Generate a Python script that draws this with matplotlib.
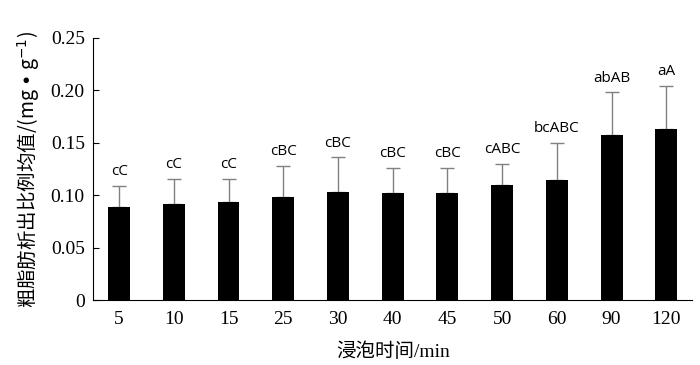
import matplotlib.pyplot as plt
import numpy as np

# 浸泡时间 / 均值 / 标准差 / 显著性标记
times = ["5", "10", "15", "25", "30", "40", "45", "50", "60", "90", "120"]
means = [0.089, 0.0915, 0.0935, 0.098, 0.103, 0.102, 0.102, 0.110, 0.1145, 0.157, 0.163]
errs = [0.020, 0.024, 0.022, 0.030, 0.033, 0.024, 0.024, 0.020, 0.0355, 0.041, 0.041]
letters = ["cC", "cC", "cC", "cBC", "cBC", "cBC", "cBC", "cABC", "bcABC", "abAB", "aA"]

plt.rcParams['font.family'] = ['Liberation Serif', 'Noto Sans CJK SC']

fig = plt.figure(figsize=(7, 3.65), dpi=100)
ax = fig.add_axes([0.133, 0.178, 0.856, 0.718])

x = np.arange(len(times))
ax.bar(x, means, width=0.4, color='black', zorder=2)
ax.errorbar(x, means, yerr=[np.zeros(len(errs)), errs], fmt='none',
            ecolor='#808080', elinewidth=1, capsize=5, capthick=1, zorder=1)

for xi, m, e, lab in zip(x, means, errs, letters):
    ax.annotate(lab, (xi, m + e), xytext=(0, 5), textcoords='offset points',
                ha='center', va='bottom', fontsize=11, family='Open Sans')

ax.set_xlim(-0.475, len(times) - 0.525)
ax.set_ylim(0, 0.25)
ax.set_yticks(np.arange(0, 0.26, 0.05))
ax.set_yticklabels(["0", "0.05", "0.10", "0.15", "0.20", "0.25"])
ax.set_xticks(x)
ax.set_xticklabels(times)
ax.tick_params(axis='y', direction='in', length=4, labelsize=14, pad=6)
ax.tick_params(axis='x', length=0, labelsize=14, pad=8)

for s in ['top', 'right']:
    ax.spines[s].set_visible(False)

ax.set_xlabel("浸泡时间/min", fontsize=14, labelpad=10)
ax.set_ylabel("粗脂肪析出比例均值/(mg • g$^{-1}$)", fontsize=14, labelpad=6,
              family=['Noto Sans CJK SC', 'Liberation Serif'])

fig.savefig("out.png", dpi=100)
